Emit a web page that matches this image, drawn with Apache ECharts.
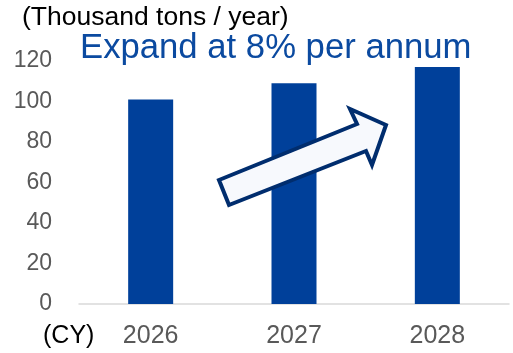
<!DOCTYPE html>
<html>
<head>
<meta charset="utf-8">
<script src="https://cdn.jsdelivr.net/npm/echarts@6/dist/echarts.min.js"></script>
<style>
  html, body { margin: 0; padding: 0; background: #fff; }
  #chart { width: 513px; height: 353px; }
</style>
</head>
<body>
<div id="chart"></div>
<script>
// データ
const years = ['2026', '2027', '2028'];
const capacity = [101, 109, 117];
const yTicks = [0, 20, 40, 60, 80, 100, 120];

const FONT = '"Liberation Sans", Arial, sans-serif';

const chart = echarts.init(document.getElementById('chart'));
chart.setOption({
  animation: false,
  grid: { left: 79, right: 4, top: 61, bottom: 49, containLabel: false },
  xAxis: {
    type: 'category',
    data: years,
    axisLine: { lineStyle: { color: '#d9d9d9', width: 1.5 } },
    axisTick: { show: false },
    axisLabel: { color: '#595959', fontSize: 25, fontFamily: FONT, margin: 20 },
  },
  yAxis: {
    type: 'value',
    min: yTicks[0],
    max: yTicks[yTicks.length - 1],
    interval: 20,
    axisLine: { show: false },
    axisTick: { show: false },
    splitLine: { show: false },
    axisLabel: { color: '#595959', fontSize: 23, fontFamily: FONT, margin: 27 },
  },
  series: [{
    type: 'bar',
    data: capacity,
    barWidth: 45,
    itemStyle: { color: '#00409a' },
  }],
  graphic: [
    {
      type: 'text', left: 22, top: 4, z: 10,
      style: { text: '(Thousand tons / year)', fill: '#000', font: '26.5px ' + FONT },
    },
    {
      type: 'text', x: 80, y: 48, z: 10,
      style: { text: 'Expand at 8% per annum', fill: '#0b4aa0', font: '34.7px ' + FONT, verticalAlign: 'middle' },
    },
    {
      type: 'text', x: 43, y: 336, z: 10,
      style: { text: '(CY)', fill: '#000', font: '25px ' + FONT, verticalAlign: 'middle' },
    },
    {
      // 成長を示す矢印
      type: 'polygon', z: 20,
      shape: { points: [[219, 180], [357, 124], [350, 109], [386, 125], [372, 165], [366, 151], [229, 205]] },
      style: { fill: '#f7f9fd', stroke: '#002d6e', lineWidth: 4, lineJoin: 'miter' },
    },
  ],
});
</script>
</body>
</html>
